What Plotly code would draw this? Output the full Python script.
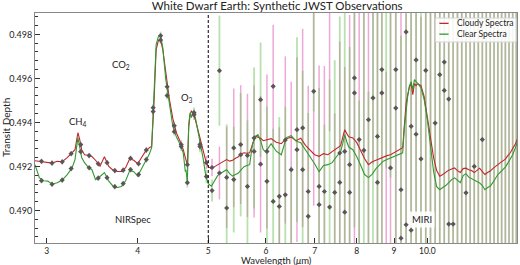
import plotly.graph_objects as go
import math

# ---------------- model spectra (wavelength in micron, transit depth) ----------------
model_wl = [2.89, 2.93, 2.97, 3.01, 3.05, 3.10, 3.15, 3.20, 3.25, 3.28, 3.31, 3.33, 3.35, 3.38,
            3.42, 3.46, 3.50, 3.55, 3.60, 3.65, 3.70, 3.75, 3.80, 3.85, 3.90, 3.95, 4.00, 4.05,
            4.10, 4.15, 4.18, 4.21, 4.24, 4.27, 4.30, 4.33, 4.37, 4.42, 4.47, 4.52, 4.57, 4.62,
            4.65, 4.66, 4.68, 4.70, 4.72, 4.74, 4.77, 4.80, 4.84, 4.88, 4.92, 4.96, 5.00, 5.05,
            5.10, 5.15, 5.20, 5.25, 5.30, 5.35, 5.40, 5.45, 5.50, 5.55, 5.60, 5.65, 5.70, 5.75,
            5.80, 5.85, 5.90, 5.95, 6.00, 6.10, 6.20, 6.30, 6.40, 6.50, 6.60, 6.70, 6.80, 6.90,
            7.00, 7.10, 7.20, 7.30, 7.40, 7.50, 7.60, 7.65, 7.70, 7.75, 7.80, 7.90, 8.00, 8.10,
            8.20, 8.30, 8.40, 8.50, 8.60, 8.70, 8.80, 8.90, 9.00, 9.10, 9.20, 9.25, 9.30, 9.35,
            9.40, 9.45, 9.50, 9.55, 9.60, 9.65, 9.70, 9.80, 9.90, 10.0, 10.1, 10.2, 10.3, 10.4,
            10.5, 10.6, 10.7, 10.8, 10.9, 11.0, 11.1, 11.2, 11.3, 11.4, 11.5, 11.6, 11.7, 11.8,
            11.9, 12.0, 12.1, 12.2, 12.3, 12.4, 12.5, 12.6, 12.7, 12.8, 12.9, 13.0, 13.1, 13.2, 13.3]

cloudy_model = [0.49226, 0.49223, 0.49219, 0.49217, 0.49215, 0.49223, 0.49221, 0.49240, 0.49262,
                0.49276, 0.49353, 0.49321, 0.49276, 0.49253, 0.49251, 0.49245, 0.49228, 0.49201,
                0.49244, 0.49200, 0.49183, 0.49177, 0.49177, 0.49194, 0.49235, 0.49228, 0.49212,
                0.49238, 0.49269, 0.49285, 0.49291, 0.49481, 0.49731, 0.49772, 0.49774, 0.49731,
                0.49631, 0.49508, 0.49417, 0.49353, 0.49317, 0.49276, 0.49240, 0.49226, 0.49208,
                0.49376, 0.49431, 0.49453, 0.49440, 0.49412, 0.49362, 0.49312, 0.49267, 0.49226,
                0.49199, 0.49190, 0.49199, 0.49208, 0.49217, 0.49226, 0.49231, 0.49224, 0.49228,
                0.49237, 0.49244, 0.49258, 0.49262, 0.49260, 0.49262, 0.49299, 0.49337, 0.49333,
                0.49328, 0.49317, 0.49319, 0.49326, 0.49310, 0.49303, 0.49326, 0.49333, 0.49317,
                0.49328, 0.49296, 0.49276, 0.49253, 0.49246, 0.49258, 0.49253, 0.49267, 0.49278,
                0.49294, 0.49331, 0.49367, 0.49349, 0.49335, 0.49329, 0.49308, 0.49271, 0.49235,
                0.49208, 0.49221, 0.49228, 0.49235, 0.49245, 0.49249, 0.49253, 0.49262, 0.49271,
                0.49278, 0.49285, 0.49390, 0.49485, 0.49526, 0.49562, 0.49576, 0.49526, 0.49576,
                0.49567, 0.49576, 0.49567, 0.49517, 0.49426, 0.49331, 0.49240, 0.49181, 0.49155,
                0.49163, 0.49174, 0.49183, 0.49188, 0.49193, 0.49181, 0.49172, 0.49190, 0.49192,
                0.49185, 0.49181, 0.49172, 0.49181, 0.49192, 0.49176, 0.49163, 0.49172, 0.49179,
                0.49190, 0.49201, 0.49208, 0.49217, 0.49226, 0.49233, 0.49249, 0.49262, 0.49281,
                0.49299, 0.49326]

clear_model = [0.49208, 0.49149, 0.49135, 0.49133, 0.49119, 0.49126, 0.49138, 0.49163, 0.49194,
               0.49231, 0.49331, 0.49290, 0.49240, 0.49217, 0.49197, 0.49185, 0.49140, 0.49154,
               0.49172, 0.49133, 0.49110, 0.49104, 0.49109, 0.49135, 0.49181, 0.49176, 0.49156,
               0.49190, 0.49221, 0.49256, 0.49285, 0.49504, 0.49754, 0.49790, 0.49794, 0.49740,
               0.49599, 0.49490, 0.49381, 0.49335, 0.49303, 0.49261, 0.49176, 0.49185, 0.49126,
               0.49390, 0.49444, 0.49422, 0.49449, 0.49422, 0.49362, 0.49308, 0.49235, 0.49158,
               0.49122, 0.49110, 0.49135, 0.49158, 0.49169, 0.49179, 0.49185, 0.49167, 0.49156,
               0.49163, 0.49170, 0.49185, 0.49199, 0.49204, 0.49208, 0.49299, 0.49335, 0.49344,
               0.49317, 0.49276, 0.49267, 0.49303, 0.49269, 0.49253, 0.49331, 0.49340, 0.49315,
               0.49308, 0.49276, 0.49244, 0.49212, 0.49176, 0.49204, 0.49208, 0.49217, 0.49244,
               0.49267, 0.49303, 0.49344, 0.49312, 0.49288, 0.49276, 0.49244, 0.49204, 0.49163,
               0.49149, 0.49165, 0.49190, 0.49208, 0.49224, 0.49231, 0.49238, 0.49242, 0.49249,
               0.49256, 0.49262, 0.49376, 0.49467, 0.49522, 0.49567, 0.49585, 0.49549, 0.49594,
               0.49585, 0.49576, 0.49558, 0.49504, 0.49412, 0.49294, 0.49176, 0.49108, 0.49094,
               0.49104, 0.49113, 0.49126, 0.49140, 0.49148, 0.49135, 0.49126, 0.49158, 0.49167,
               0.49151, 0.49144, 0.49140, 0.49133, 0.49125, 0.49113, 0.49094, 0.49104, 0.49110,
               0.49126, 0.49144, 0.49163, 0.49174, 0.49185, 0.49197, 0.49215, 0.49235, 0.49253,
               0.49281, 0.49313]

# ---------------- synthetic observations ----------------
obs_wl = [2.95, 3.05, 3.15, 3.24, 3.34, 3.43, 3.53, 3.63, 3.72, 3.82, 3.91, 4.01, 4.11, 4.20,
          4.30, 4.39, 4.49, 4.59, 4.68, 4.78, 4.87, 4.97,
          5.06, 5.18, 5.30, 5.42, 5.54, 5.66, 5.78, 5.90, 6.02, 6.14, 6.26, 6.38, 6.50, 6.62,
          6.74, 6.86, 6.98, 7.10, 7.22, 7.34, 7.46, 7.58, 7.70, 7.82, 7.94, 8.06, 8.18, 8.30,
          8.42, 8.54, 8.66, 8.78, 8.90, 9.05, 9.20, 9.35, 9.50, 9.65, 9.80, 9.95, 10.10, 10.25,
          10.40, 10.55, 10.70, 10.85, 11.00, 11.15, 11.30, 11.45, 11.60, 11.75, 11.90, 12.05,
          12.20, 12.35, 12.50, 12.65, 12.80, 12.95, 13.10, 13.25]

cloudy_obs = [0.49223, 0.49215, 0.49221, 0.49258, 0.49299, 0.49249, 0.49212, 0.49217, 0.49181,
              0.49183, 0.49237, 0.49212, 0.49274, 0.49449, 0.49774, 0.49562, 0.49385, 0.49299,
              0.49208, 0.49435, 0.49300, 0.49217,
              0.49195, 0.49170, 0.49150, 0.49284, 0.49299, 0.49250, 0.49268, 0.49210, 0.49268,
              0.49564, 0.49018, 0.49320, 0.49185, 0.49276, 0.49375, 0.49086, 0.49541, 0.49109,
              0.49086, 0.49960, 0.48820, 0.49127, 0.48992, 0.49208, 0.49534, 0.49322, 0.49980,
              0.49412, 0.49990, 0.49127, 0.49640, 0.48790, 0.49193, 0.49640, 0.49094, 0.49811,
              0.49382, 0.49346, 0.48780, 0.49636, 0.50020, 0.49397, 0.49617, 0.49545, 0.48938,
              0.48700, 0.50100, 0.48600, 0.49080, 0.50150, 0.48550, 0.48500, 0.49322, 0.50300,
              0.48400, 0.50400, 0.48350, 0.50450, 0.48300, 0.50500, 0.48200, 0.50600]

cloudy_err = [0.00012, 0.00012, 0.00012, 0.00012, 0.00012, 0.00012, 0.00012, 0.00012, 0.00012,
              0.00012, 0.00012, 0.00012, 0.00014, 0.00016, 0.00018, 0.00018, 0.00018, 0.00020,
              0.00022, 0.00024, 0.00026, 0.00030,
              0.0004, 0.0012, 0.0023, 0.0027, 0.0027, 0.0028, 0.0030, 0.0031, 0.0035, 0.0028,
              0.0036, 0.0038, 0.0040, 0.0042, 0.0045, 0.0048, 0.0052, 0.0055, 0.0057, 0.0060,
              0.0062, 0.0064, 0.0066, 0.0068, 0.0070, 0.0072, 0.0074, 0.0076, 0.0078, 0.0080,
              0.0082, 0.0084, 0.0086, 0.0090, 0.0095, 0.0100, 0.0100, 0.0110, 0.0110, 0.0120,
              0.0120, 0.0130, 0.0130, 0.0140, 0.0140, 0.0150, 0.0150, 0.0160, 0.0160, 0.0170,
              0.0170, 0.0180, 0.0180, 0.0190, 0.0200, 0.0200, 0.0210, 0.0220, 0.0220, 0.0230,
              0.0240, 0.0250]

clear_obs = [0.49135, 0.49119, 0.49138, 0.49190, 0.49267, 0.49194, 0.49147, 0.49149, 0.49108,
             0.49122, 0.49185, 0.49163, 0.49231, 0.49467, 0.49794, 0.49522, 0.49358, 0.49290,
             0.49126, 0.49444, 0.49290, 0.49154,
             0.49090, 0.49635, 0.49011, 0.49140, 0.49253, 0.49109, 0.49329, 0.49503, 0.49132,
             0.49041, 0.49064, 0.49071, 0.48750, 0.49367, 0.49185, 0.48973, 0.49950, 0.49026,
             0.48830, 0.49015, 0.49082, 0.49261, 0.49268, 0.49082, 0.49602, 0.48800, 0.49273,
             0.48800, 0.49511, 0.49336, 0.49534, 0.50010, 0.49990, 0.49465, 0.48874, 0.48935,
             0.48910, 0.49684, 0.49234, 0.48780, 0.48700, 0.50050, 0.49960, 0.49674, 0.49506,
             0.48938, 0.48650, 0.50100, 0.48700, 0.50200, 0.49200, 0.50250, 0.48500, 0.48450,
             0.50350, 0.48400, 0.50400, 0.48300, 0.50500, 0.48250, 0.50550, 0.48200]

clear_err = [0.00012, 0.00012, 0.00012, 0.00012, 0.00012, 0.00012, 0.00012, 0.00012, 0.00012,
             0.00012, 0.00012, 0.00012, 0.00014, 0.00016, 0.00018, 0.00018, 0.00018, 0.00020,
             0.00022, 0.00024, 0.00026, 0.00030,
             0.0005, 0.0025, 0.0038, 0.0024, 0.0028, 0.0030, 0.0032, 0.0026, 0.0034, 0.0033,
             0.0036, 0.0040, 0.0045, 0.0042, 0.0045, 0.0047, 0.0050, 0.0053, 0.0056, 0.0058,
             0.0060, 0.0062, 0.0064, 0.0066, 0.0068, 0.0070, 0.0072, 0.0074, 0.0076, 0.0078,
             0.0080, 0.0082, 0.0084, 0.0088, 0.0092, 0.0096, 0.0100, 0.0110, 0.0110, 0.0120,
             0.0120, 0.0130, 0.0130, 0.0140, 0.0140, 0.0150, 0.0150, 0.0160, 0.0160, 0.0170,
             0.0170, 0.0180, 0.0180, 0.0190, 0.0200, 0.0200, 0.0210, 0.0220, 0.0220, 0.0230,
             0.0240, 0.0250]

# ---------------- labels ----------------
x_tick_vals = [3, 4, 5, 6, 7, 8, 9, 10]
x_tick_text = ["3", "4", "5", "6", "7", "8", "9", "10.0"]
y_tick_vals = [0.490, 0.492, 0.494, 0.496, 0.498]
instrument_boundary = 5.0
x_limits = [2.89, 13.28]
y_limits = [0.48852, 0.49897]
feature_labels = [("CH<sub>4</sub>", 3.31, 0.49403), ("CO<sub>2</sub>", 3.79, 0.49663),
                  ("O<sub>3</sub>", 4.67, 0.49513)]
instrument_labels = [("NIRSpec", 3.94, 0.48961), ("MIRI", 9.82, 0.48961)]
legend_entries = [("Cloudy Spectra", "#c0272d"), ("Clear Spectra", "#2f9a2f")]
title_text = "White Dwarf Earth: Synthetic JWST Observations"
x_title = "Wavelength (<i>μ</i>m)"
y_title = "Transit Depth"

FONT = "Lato, 'Open Sans', sans-serif"
RED = legend_entries[0][1]
GREEN = legend_entries[1][1]
TXT = "#222222"

fig = go.Figure()

# error bars (drawn first): cloudy pink underneath, clear green on top
fig.add_trace(go.Scatter(
    x=obs_wl, y=cloudy_obs, mode="markers", showlegend=False, hoverinfo="skip",
    marker=dict(size=1, color="rgba(0,0,0,0)"),
    error_y=dict(type="data", array=cloudy_err, visible=True, width=0, thickness=1.5,
                 color="rgba(226,110,185,0.6)")))
fig.add_trace(go.Scatter(
    x=obs_wl, y=clear_obs, mode="markers", showlegend=False, hoverinfo="skip",
    marker=dict(size=1, color="rgba(0,0,0,0)"),
    error_y=dict(type="data", array=clear_err, visible=True, width=0, thickness=1.8,
                 color="rgba(115,195,95,0.5)")))

# model lines
fig.add_trace(go.Scatter(x=model_wl, y=cloudy_model, mode="lines", showlegend=False,
                         line=dict(color=RED, width=1.1)))
fig.add_trace(go.Scatter(x=model_wl, y=clear_model, mode="lines", showlegend=False,
                         line=dict(color=GREEN, width=1.1)))

# observation markers
for vals in (cloudy_obs, clear_obs):
    fig.add_trace(go.Scatter(x=obs_wl, y=vals, mode="markers", showlegend=False,
                             hoverinfo="skip",
                             marker=dict(symbol="diamond", size=4, color="#5c5558",
                                         line=dict(width=0))))

fig.add_shape(type="line", x0=instrument_boundary, x1=instrument_boundary, xref="x",
              y0=0, y1=1, yref="paper", line=dict(color="black", width=1, dash="3px,2px"))

for txt, xv, yv in feature_labels:
    fig.add_annotation(x=math.log10(xv), y=yv, text=txt, showarrow=False,
                       font=dict(family=FONT, size=9.5, color=TXT))
for txt, xv, yv in instrument_labels:
    fig.add_annotation(x=math.log10(xv), y=yv, text=txt, showarrow=False,
                       bgcolor="rgba(255,255,255,0.9)", borderpad=2,
                       font=dict(family=FONT, size=9.5, color=TXT))

# legend box (drawn as layout items)
fig.add_shape(type="rect", xref="paper", yref="paper", x0=0.831, x1=0.998, y0=0.874, y1=0.978,
              fillcolor="rgba(255,255,255,0.88)", line=dict(color="#d6d6d6", width=1),
              layer="above")
for i, (name, col) in enumerate(legend_entries):
    yy = 0.955 - i * 0.047
    fig.add_shape(type="line", xref="paper", yref="paper", x0=0.839, x1=0.858, y0=yy, y1=yy,
                  line=dict(color=col, width=1.3), layer="above")
    fig.add_annotation(xref="paper", yref="paper", x=0.872, y=yy, text=name, showarrow=False,
                       xanchor="left", yanchor="middle",
                       font=dict(family=FONT, size=8.5, color=TXT))

# axis titles
fig.add_annotation(xref="paper", yref="paper", x=0.501, y=-0.076, text=x_title,
                   showarrow=False, xanchor="center", yanchor="middle",
                   font=dict(family=FONT, size=9.5, color=TXT))
fig.add_annotation(xref="paper", yref="paper", x=-0.060, y=0.5, text=y_title, textangle=-90,
                   showarrow=False, xanchor="center", yanchor="middle",
                   font=dict(family=FONT, size=10, color=TXT))

fig.update_layout(
    width=520, height=265,
    margin=dict(l=35, r=3, t=13, b=22, autoexpand=False),
    paper_bgcolor="white", plot_bgcolor="white",
    font=dict(family=FONT, size=9, color=TXT),
    title=dict(text=title_text, x=0.533, xanchor="center", xref="container",
               y=0.976, yanchor="middle", yref="container",
               font=dict(family=FONT, size=11.5, color=TXT)),
    showlegend=False,
)
fig.update_xaxes(type="log", range=[math.log10(x_limits[0]), math.log10(x_limits[1])],
                 tickvals=x_tick_vals, ticktext=x_tick_text, ticks="inside", ticklen=5,
                 tickcolor="#333", showline=True, linecolor="#888", linewidth=1, mirror=True,
                 showgrid=False, zeroline=False, tickfont=dict(size=8.5), automargin=False)
fig.update_yaxes(range=y_limits, tickvals=y_tick_vals, tickformat=".3f", ticks="inside",
                 ticklen=5, tickcolor="#333", showline=True, linecolor="#888", linewidth=1,
                 mirror=True, showgrid=False, zeroline=False, tickfont=dict(size=9),
                 minor=dict(dtick=0.0004, ticks="inside", ticklen=3, tickcolor="#333"),
                 automargin=False)

fig.write_html("out.html", config={"displayModeBar": False},
               post_script="document.body.style.margin='0';document.body.style.padding='0';"
                           "document.body.style.overflow='hidden';")
